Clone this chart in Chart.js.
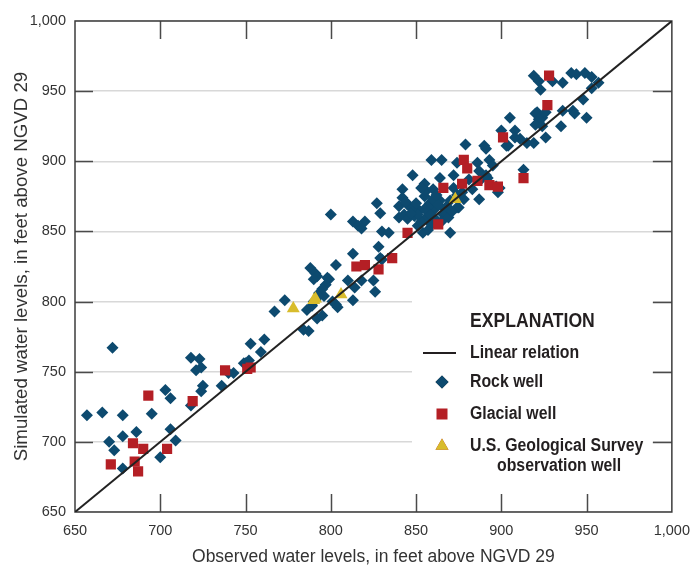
<!DOCTYPE html>
<html>
<head>
<meta charset="utf-8">
<script src="https://cdn.jsdelivr.net/npm/chart.js@4/dist/chart.umd.min.js"></script>
<style>
  html, body { margin: 0; background: #fff; }
  #wrap { width: 700px; height: 567px; }
</style>
</head>
<body>
<div id="wrap"><canvas id="chart" width="700" height="567"></canvas></div>
<script>
// [observed, simulated] water levels, feet above NGVD 29
const rockWells = [
  [672,767],[657,719],[666,721],[678,719],[670,700],[678,704],[673,694],[678,681],[686,707],[695,720],
  [700,689],[706,709],[709,701],[703,737],[706,731],[718,726],[718,760],[723,759],[721,751],[724,753],
  [725,740],[724,736],[736,740],[743,749],[753,770],[752,758],[749,756],[740,749],[750,756],[761,773],
  [759,764],
  [800,862],[813,857],[816,854],[820,857],[818,852],[827,870],[829,863],[840,868],[843,862],[848,866],
  [830,850],[834,849],[840,860],[828,839],[813,834],[803,826],[788,824],[791,820],[792,818],[790,816],
  [799,816],[797,812],[795,809],[793,806],[796,804],[791,801],[810,815],[814,810],[818,815],[825,815],
  [826,807],[813,801],[803,798],[801,800],[786,794],[792,788],[795,790],[784,780],[787,779],[773,801],
  [767,793],[789,797],[798,817],[830,830],[804,796],[793,804],[790,800],
  [905,931],[921,935],[924,931],[922,928],[900,922],[908,922],[911,916],[915,913],[919,913],[926,917],
  [904,911],[879,912],[890,911],[891,909],[893,901],[886,899],[874,899],[859,901],[865,901],[848,890],
  [855,884],[842,880],[842,874],[864,888],[872,890],[888,887],[892,888],[898,878],[913,894],[887,873],
  [878,873],[872,881],[870,849],[854,849],[851,854],[829,831],[867,866],[875,867],[845,869],[848,867],
  [845,859],[849,861],[855,875],[858,870],[861,866],[864,872],[852,865],[856,860],[862,858],[866,862],
  [859,855],[853,857],[868,868],[850,870],[856,879],[874,876],[887,893],[891,890],[895,897],[899,881],
  [874,867],[857,868],[860,873],[863,869],[851,862],[858,862],[865,857],[869,860],[855,866],[860,880],
  [862,876],[870,872],[871,864],[857,851],[847,863],[844,871],[853,881],[877,878],[881,887],[883,880],
  [919,961],[922,957],[923,951],[930,957],[936,956],[941,963],[944,962],[949,963],[953,960],[957,956],
  [953,952],[948,944],[942,936],[943,934],[936,936],[920,934],[922,930],[920,926],[926,935],[950,931],
  [935,925],[924,925],[908,917],[903,911],[897,882]
];
const glacialWells = [
  [693,733],[684,699],[690,695],[671,684],[685,686],[687,679],[704,695],[719,729],[738,751],[751,752],
  [753,753],[815,825],[820,826],[828,823],[836,831],[845,849],[863,855],[866,881],[877,884],[878,901],
  [880,895],[886,886],[893,883],[898,882],[901,917],[913,888],[927,940],[928,961]
];
const usgsWells = [[778,795],[790,801],[791,802],[806,805],[873,873]];
const linearRelation = [650, 1000];
const axisMin = 650, axisMax = 1000, axisStep = 50;

const FONT = "'Liberation Sans Narrow', 'Arial Narrow', 'Liberation Sans', sans-serif";
const ROCK = '#0d4a6f', GLACIAL = '#b41f25', USGS = '#d8bc2c', INK = '#231f20';

const toPoints = arr => arr.map(p => ({ x: p[0], y: p[1] }));

// condensed text: the reference uses a narrow face that is not installed
function narrowText(ctx, text, x, y, squeeze) {
  ctx.save();
  ctx.translate(x, y);
  ctx.scale(squeeze, 1);
  ctx.fillText(text, 0, 0);
  ctx.restore();
}

const frameAndLegend = {
  id: 'frameAndLegend',
  beforeDatasetsDraw(chart) {
    const { ctx, chartArea: a, scales: { x, y } } = chart;
    ctx.save();
    // legend background hides the grid
    const lx = a.left + 337, ly = a.top + 276;
    ctx.fillStyle = '#fff';
    ctx.fillRect(lx, ly, 241, 196);
    // inward tick marks
    ctx.strokeStyle = '#4a4a4a';
    ctx.lineWidth = 1.5;
    ctx.beginPath();
    for (let v = axisMin + axisStep; v < axisMax; v += axisStep) {
      const px = Math.round(x.getPixelForValue(v)) + 0.5;
      ctx.moveTo(px, a.bottom); ctx.lineTo(px, a.bottom - 18);
      ctx.moveTo(px, a.top); ctx.lineTo(px, a.top + 18);
      const py = Math.round(y.getPixelForValue(v)) + 0.5;
      ctx.moveTo(a.left, py); ctx.lineTo(a.left + 18, py);
      ctx.moveTo(a.right, py); ctx.lineTo(a.right - 19, py);
    }
    ctx.stroke();
    // frame
    ctx.strokeStyle = '#3c3c3c';
    ctx.lineWidth = 1.5;
    ctx.strokeRect(a.left, a.top, a.right - a.left, a.bottom - a.top);

    // legend
    const tx = lx + 58, mx = lx + 30;
    ctx.fillStyle = INK;
    ctx.textBaseline = 'middle';
    ctx.font = `bold 20px ${FONT}`;
    narrowText(ctx, 'EXPLANATION', tx, ly + 24, 0.88);
    ctx.font = `bold 18px ${FONT}`;
    const rows = [ly + 56, ly + 85, ly + 117, ly + 149];
    narrowText(ctx, 'Linear relation', tx, rows[0], 0.88);
    narrowText(ctx, 'Rock well', tx, rows[1], 0.88);
    narrowText(ctx, 'Glacial well', tx, rows[2], 0.88);
    narrowText(ctx, 'U.S. Geological Survey', tx, rows[3], 0.88);
    narrowText(ctx, 'observation well', tx + 27, rows[3] + 20, 0.88);
    ctx.strokeStyle = INK;
    ctx.lineWidth = 2;
    ctx.beginPath();
    ctx.moveTo(mx - 19, rows[0]); ctx.lineTo(mx + 14, rows[0]);
    ctx.stroke();
    Chart.helpers.drawPoint(ctx, { pointStyle: 'rectRot', radius: 6.5, borderWidth: 0 }, mx, rows[1]);
    ctx.fillStyle = ROCK; ctx.fill();
    ctx.fillStyle = GLACIAL;
    ctx.fillRect(mx - 5.5, rows[2] - 5.5, 11, 11);
    Chart.helpers.drawPoint(ctx, { pointStyle: 'triangle', radius: 7.5, borderWidth: 0 }, mx, rows[3]);
    ctx.fillStyle = USGS; ctx.fill();
    ctx.restore();
  }
};

new Chart(document.getElementById('chart'), {
  type: 'scatter',
  data: {
    datasets: [
      {
        type: 'line',
        label: 'Linear relation',
        data: toPoints([[linearRelation[0], linearRelation[0]], [linearRelation[1], linearRelation[1]]]),
        borderColor: '#222',
        borderWidth: 2,
        pointRadius: 0,
        order: 0
      },
      {
        label: 'Rock well',
        data: toPoints(rockWells),
        pointStyle: 'rectRot',
        pointRadius: 6,
        backgroundColor: ROCK,
        borderColor: ROCK,
        borderWidth: 0,
        order: 3
      },
      {
        label: 'Glacial well',
        data: toPoints(glacialWells),
        pointStyle: 'rect',
        pointRadius: 7.2,
        backgroundColor: GLACIAL,
        borderColor: GLACIAL,
        borderWidth: 0,
        order: 2
      },
      {
        label: 'U.S. Geological Survey observation well',
        data: toPoints(usgsWells),
        pointStyle: 'triangle',
        pointRadius: 7.5,
        backgroundColor: USGS,
        borderColor: USGS,
        borderWidth: 0,
        order: 1
      }
    ]
  },
  options: {
    responsive: false,
    animation: false,
    layout: { padding: { left: 0, right: 19, top: 21, bottom: 0 } },
    plugins: { legend: { display: false }, tooltip: { enabled: false } },
    scales: {
      x: {
        min: axisMin, max: axisMax,
        afterFit: s => { s.height = 55; },
        grid: { display: false, drawTicks: false },
        border: { display: false },
        ticks: { stepSize: axisStep, padding: 10, color: '#333', font: { family: FONT, size: 14.5 } },
        title: {
          display: true,
          text: 'Observed water levels, in feet above NGVD 29',
          color: '#333',
          font: { family: FONT, size: 17.5, lineHeight: 1 },
          padding: { top: 0, bottom: 1 }
        }
      },
      y: {
        min: axisMin, max: axisMax,
        afterFit: s => { s.width = 75; },
        grid: { color: '#d8d8d8', lineWidth: 1.5, drawTicks: false },
        border: { display: false },
        ticks: { stepSize: axisStep, padding: 9, color: '#333', font: { family: FONT, size: 14.5 } },
        title: {
          display: true,
          text: 'Simulated water levels, in feet above NGVD 29',
          color: '#333',
          font: { family: FONT, size: 18.7, lineHeight: 1 },
          padding: { top: 13, bottom: 0 }
        }
      }
    }
  },
  plugins: [frameAndLegend]
});
</script>
</body>
</html>
